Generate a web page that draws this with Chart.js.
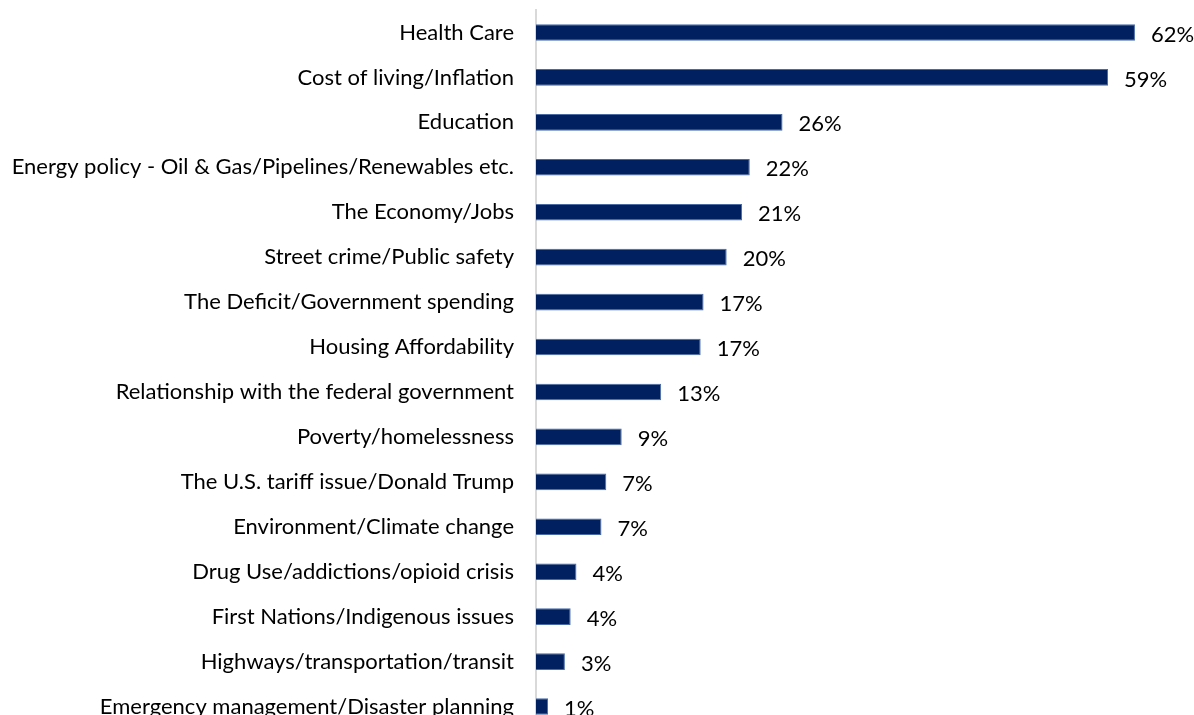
<!DOCTYPE html>
<html>
<head>
<meta charset="utf-8">
<script src="https://cdn.jsdelivr.net/npm/chart.js@4/dist/chart.umd.min.js"></script>
<style>
  html, body { margin: 0; padding: 0; background: #ffffff; overflow: hidden; }
  #wrap { width: 1194px; height: 740px; position: relative; }
</style>
</head>
<body>
<div id="wrap"><canvas id="c" width="1194" height="740"></canvas></div>
<script>
const categories = [
  "Health Care",
  "Cost of living/Inflation",
  "Education",
  "Energy policy - Oil & Gas/Pipelines/Renewables etc.",
  "The Economy/Jobs",
  "Street crime/Public safety",
  "The Deficit/Government spending",
  "Housing Affordability",
  "Relationship with the federal government",
  "Poverty/homelessness",
  "The U.S. tariff issue/Donald Trump",
  "Environment/Climate change",
  "Drug Use/addictions/opioid crisis",
  "First Nations/Indigenous issues",
  "Highways/transportation/transit",
  "Emergency management/Disaster planning"
];
const values = [62.2, 59.4, 25.6, 22.2, 21.4, 19.8, 17.4, 17.1, 13.0, 8.9, 7.3, 6.8, 4.2, 3.6, 3.0, 1.25];
const valueLabels = ["62%", "59%", "26%", "22%", "21%", "20%", "17%", "17%", "13%", "9%", "7%", "7%", "4%", "4%", "3%", "1%"];

const FONT = "Lato, 'Open Sans', sans-serif";

const valueLabelPlugin = {
  id: 'valueLabels',
  afterDatasetsDraw(chart) {
    const ctx = chart.ctx;
    const meta = chart.getDatasetMeta(0);
    ctx.save();
    ctx.font = "22px " + FONT;
    ctx.fillStyle = "#000000";
    ctx.textAlign = "left";
    ctx.textBaseline = "middle";
    meta.data.forEach((bar, i) => {
      ctx.fillText(valueLabels[i], bar.x + 16, bar.y + 2);
    });
    ctx.restore();
  }
};

new Chart(document.getElementById('c'), {
  type: 'bar',
  data: {
    labels: categories,
    datasets: [{
      data: values,
      backgroundColor: '#002060',
      borderColor: '#4a6aa5',
      borderWidth: 1,
      categoryPercentage: 1,
      barPercentage: 0.37
    }]
  },
  options: {
    indexAxis: 'y',
    responsive: false,
    animation: false,
    layout: { padding: { top: 10, right: 34, bottom: 11, left: 0 } },
    plugins: { legend: { display: false }, tooltip: { enabled: false } },
    scales: {
      x: { display: false, min: 0, max: 64.8 },
      y: {
        afterFit(scale) { scale.width = 536; scale.paddingTop = 0; scale.paddingBottom = 0; },
        grid: { display: false, drawTicks: false },
        border: { display: true, color: '#d9d9d9', width: 2 },
        ticks: {
          color: '#000000',
          padding: 22,
          font: { family: FONT, size: 22 },
          autoSkip: false
        }
      }
    }
  },
  plugins: [valueLabelPlugin]
});
</script>
</body>
</html>
